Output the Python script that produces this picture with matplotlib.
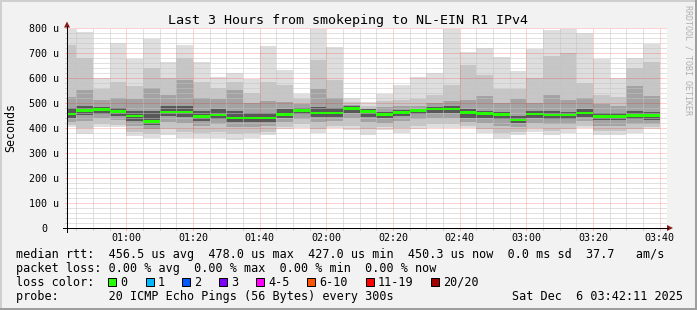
import matplotlib

matplotlib.use("Agg")
import matplotlib.pyplot as plt
import numpy as np
from matplotlib.patches import Polygon, Rectangle
from matplotlib.lines import Line2D

W, H = 697, 310

# 5 dakikalik dilimler (baslangic saati)
slots = ["00:40", "00:45", "00:50", "00:55", "01:00", "01:05", "01:10", "01:15", "01:20",
         "01:25", "01:30", "01:35", "01:40", "01:45", "01:50", "01:55", "02:00", "02:05",
         "02:10", "02:15", "02:20", "02:25", "02:30", "02:35", "02:40", "02:45", "02:50",
         "02:55", "03:00", "03:05", "03:10", "03:15", "03:20", "03:25", "03:30", "03:35"]

# smoke katmanlari (us): en dis -> en ic
rtt_max = [798, 784, 599, 741, 677, 757, 664, 733, 664, 603, 619, 597, 728, 631, 537, 798, 724, 520,
           505, 536, 572, 605, 621, 798, 705, 719, 683, 628, 716, 792, 796, 779, 676, 599, 679, 737]
rtt_hi = [732, 680, 556, 584, 568, 640, 600, 680, 584, 560, 584, 540, 584, 572, 515, 672, 592, 505,
          490, 510, 512, 515, 532, 572, 652, 612, 556, 556, 600, 688, 700, 580, 532, 525, 640, 664]
rtt_mid_hi = [524, 552, 512, 521, 516, 560, 532, 592, 520, 515, 552, 500, 510, 505, 495, 556, 520, 492,
              478, 485, 488, 490, 500, 510, 512, 530, 500, 515, 500, 532, 512, 520, 495, 490, 568, 530]
rtt_core_hi = [480, 490, 485, 482, 470, 470, 488, 490, 470, 475, 470, 462, 462, 475, 480, 485, 480, 490,
               478, 465, 472, 478, 485, 488, 475, 470, 465, 450, 470, 468, 465, 475, 462, 460, 470, 465]
median = [456, 469, 473, 465, 448, 427, 464, 464, 447, 452, 440, 440, 440, 455, 469, 460, 460, 478,
          465, 453, 461, 469, 476, 476, 461, 457, 453, 432, 456, 452, 452, 460, 447, 447, 451, 450]
rtt_core_lo = [440, 452, 458, 450, 430, 412, 448, 445, 430, 438, 425, 425, 425, 440, 455, 445, 445, 462,
               445, 440, 448, 455, 460, 462, 440, 440, 435, 420, 440, 438, 438, 445, 432, 432, 435, 432]
rtt_mid_lo = [425, 430, 440, 432, 410, 395, 425, 420, 410, 415, 405, 405, 408, 425, 438, 425, 430, 440,
              425, 420, 428, 435, 440, 440, 425, 420, 410, 405, 420, 415, 418, 428, 410, 410, 415, 415]
rtt_lo = [412, 400, 415, 412, 385, 375, 395, 385, 380, 385, 375, 380, 385, 405, 415, 395, 410, 410,
          395, 405, 400, 410, 415, 415, 410, 395, 380, 385, 400, 390, 395, 410, 390, 390, 395, 405]
rtt_min = [405, 375, 403, 403, 369, 359, 372, 359, 359, 359, 352, 361, 372, 395, 399, 379, 399, 392,
           372, 392, 379, 395, 399, 399, 399, 379, 355, 372, 385, 372, 379, 399, 372, 372, 382, 395]

x_ticks = ["01:00", "01:20", "01:40", "02:00", "02:20", "02:40", "03:00", "03:20", "03:40"]
y_ticks = [100, 200, 300, 400, 500, 600, 700, 800]

loss_labels = ["0", "1", "2", "3", "4-5", "6-10", "11-19", "20/20"]
loss_colors = ["#26ff00", "#00b8ff", "#0059ff", "#7e00ff", "#ff00ff", "#ff5500", "#ff0000", "#a10000"]

title = "Last 3 Hours from smokeping to NL-EIN R1 IPv4"
legend_rows = [
    "median rtt:  456.5 us avg  478.0 us max  427.0 us min  450.3 us now  0.0 ms sd  37.7   am/s",
    "packet loss: 0.00 % avg  0.00 % max  0.00 % min  0.00 % now",
    "loss color:",
    "probe:       20 ICMP Echo Pings (56 Bytes) every 300s",
]
stamp = "Sat Dec  6 03:42:11 2025"


def mins(s):
    return int(s[:2]) * 60 + int(s[3:])


def P(x, y):
    return x / W, 1 - y / H


plt.rcParams["font.family"] = "DejaVu Sans Mono"
fig = plt.figure(figsize=(W / 100, H / 100), dpi=100, facecolor="#f2f2f2")

# cerceve golgeleri
fig.patches.append(Rectangle((0, 0), 1, 2 / H, transform=fig.transFigure, color="#9e9e9e", lw=0))
fig.patches.append(Rectangle((1 - 2 / W, 0), 2 / W, 1, transform=fig.transFigure, color="#9e9e9e", lw=0))
fig.patches.append(Rectangle((0, 1 - 2 / H), 1 - 2 / W, 2 / H, transform=fig.transFigure, color="#cfcfcf", lw=0))
fig.patches.append(Rectangle((0, 2 / H), 2 / W, 1 - 4 / H, transform=fig.transFigure, color="#cfcfcf", lw=0))

L, R, T, B = 67, 667, 27.5, 228
ax = fig.add_axes([L / W, 1 - B / H, (R - L) / W, (B - T) / H])
ax.set_facecolor("white")
t0 = 42 + 11 / 60
ax.set_xlim(t0, t0 + 180)
ax.set_ylim(0, 802)
for s in ax.spines.values():
    s.set_visible(False)

t = np.array([mins(s) for s in slots], float)
tiers = [(rtt_min, rtt_max, "#dedede"), (rtt_lo, rtt_hi, "#c6c6c6"),
         (rtt_mid_lo, rtt_mid_hi, "#a3a3a3"), (rtt_core_lo, rtt_core_hi, "#585858")]
for lo, hi, c in tiers:
    lo, hi = np.array(lo, float), np.array(hi, float)
    ax.bar(t, hi - lo, bottom=lo, width=5, align="edge", color=c, linewidth=0, zorder=1)
med = np.array(median, float)
ax.bar(t, 11, bottom=med - 5.5, width=5, align="edge", color=loss_colors[0], linewidth=0, zorder=3)

xt = np.array([mins(s) for s in x_ticks], float)
ax.set_xticks(xt)
ax.set_xticks(np.arange(45, t0 + 180, 5), minor=True)
ax.set_yticks(np.arange(0, 801, 100))
ax.set_yticks(np.arange(0, 801, 20), minor=True)
ax.set_xticklabels([])
ax.set_yticklabels([])
ax.set_axisbelow(False)
dots = (0, (1, 1))
ax.grid(which="minor", color="#c4c4c4", ls=dots, lw=0.72, zorder=2)
ax.grid(which="major", color="#ff0000", alpha=0.35, ls=dots, lw=0.72, zorder=2)
ax.tick_params(which="major", length=1.5, width=0.72, color="#ff9a9a")
ax.tick_params(which="minor", length=1.5, width=0.72, color="#c4c4c4")

# eksen cizgileri ve oklar
arrow = "#8f1a1a"
fig.add_artist(Line2D([63 / W, 668 / W], [1 - B / H, 1 - B / H], color="black", lw=0.72))
fig.add_artist(Line2D([L / W, L / W], [1 - 232 / H, 1 - 26 / H], color="black", lw=0.72))
fig.patches.append(Polygon([P(673, B), P(667, B - 3), P(667, B + 3)], closed=True,
                           transform=fig.transFigure, color=arrow, lw=0))
fig.patches.append(Polygon([P(L, 21.5), P(L - 3, 27.5), P(L + 3, 27.5)], closed=True,
                           transform=fig.transFigure, color=arrow, lw=0))

# etiketler
for v in y_ticks:
    y = B - v / 802 * (B - T)
    fig.text(*P(59, y + 3.6), f"{v} u", ha="right", va="baseline", fontsize=7.2)
fig.text(*P(47.5, B + 3.6), "0", ha="right", va="baseline", fontsize=7.2)
for s, m in zip(x_ticks, xt):
    x = L + (m - t0) / 180 * (R - L)
    fig.text(*P(x, 241), s, ha="center", va="baseline", fontsize=7.2)

fig.text(*P(10.5, 128), "Seconds", rotation=90, ha="center", va="center", fontsize=8.4)
fig.text(*P(348.5, 24), title, ha="center", va="baseline", fontsize=9.6)
fig.text(*P(688, 5), "RRDTOOL / TOBI OETIKER", rotation=270, ha="center", va="top",
         fontsize=6, color="#b0b0b0")

for i, row in enumerate(legend_rows):
    fig.text(*P(16, 257.7 + 14 * i), row, ha="left", va="baseline", fontsize=8.5)
fig.text(*P(683, 299.7), stamp, ha="right", va="baseline", fontsize=8.5)

box_x = [108, 146, 182, 219, 256, 307, 366, 431]
for bx, lab, c in zip(box_x, loss_labels, loss_colors):
    fig.patches.append(Rectangle(P(bx, 285.7), 8 / W, 8 / H, transform=fig.transFigure,
                                 facecolor=c, edgecolor="black", lw=0.72))
    fig.text(*P(bx + 12, 285.7), lab, ha="left", va="baseline", fontsize=8.5)

fig.savefig("out.png", dpi=100, facecolor=fig.get_facecolor())
